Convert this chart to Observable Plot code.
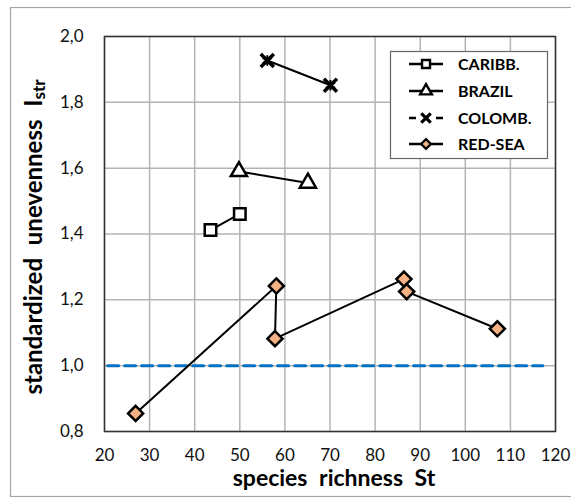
<!DOCTYPE html>
<html><head><meta charset="utf-8">
<script src="https://cdn.jsdelivr.net/npm/d3@7"></script>
<script src="https://cdn.jsdelivr.net/npm/@observablehq/plot@0.6"></script>
<style>body{margin:0;background:#fff} svg{display:block}</style>
</head><body><div id="chart"></div>
<script>
const xTicks = [20, 30, 40, 50, 60, 70, 80, 90, 100, 110, 120];
const yTicks = [0.8, 1.0, 1.2, 1.4, 1.6, 1.8, 2.0];
const seriesNames = ["CARIBB.", "BRAZIL", "COLOMB.", "RED-SEA"];
const caribbX = [43.5, 50.0];
const caribbY = [1.412, 1.461];
const brazilX = [49.8, 65.1];
const brazilY = [1.59, 1.555];
const colombX = [56.1, 70.1];
const colombY = [1.927, 1.852];
const redseaX = [26.9, 58.1, 57.8, 86.4, 87.0, 107.1];
const redseaY = [0.855, 1.242, 1.082, 1.263, 1.225, 1.112];
const refX = [20.7, 117.2];
const refY = [1.0, 1.0];

const rows = (xs, ys) => xs.map((x, i) => ({x, y: ys[i]}));
const caribb = rows(caribbX, caribbY);
const brazil = rows(brazilX, brazilY);
const colomb = rows(colombX, colombY);
const redsea = rows(redseaX, redseaY);
const ref = rows(refX, refY);
const fmt = d => d.toFixed(1).replace(".", ",");

const chart = Plot.plot({
  width: 571, height: 498,
  marginLeft: 104, marginRight: 16, marginTop: 36, marginBottom: 67,
  x: {domain: [20, 120]},
  y: {domain: [0.8, 2.0]},
  style: {fontFamily: "Lato, sans-serif", fontSize: "17px", color: "#111", background: "white"},
  marks: [
    Plot.gridX(xTicks, {stroke: "#b4b4b4", strokeOpacity: 1, strokeWidth: 1.5}),
    Plot.gridY(yTicks, {stroke: "#b4b4b4", strokeOpacity: 1, strokeWidth: 1.5}),
    Plot.axisX(xTicks, {tickSize: 0, tickPadding: 17, label: null, tickFormat: d => String(d)}),
    Plot.axisY(yTicks, {tickSize: 0, tickPadding: 21, label: null, tickFormat: fmt}),
    Plot.frame({stroke: "#333", strokeWidth: 1.5}),
    Plot.line(ref, {x: "x", y: "y", stroke: "#0070C0", strokeWidth: 3, strokeDasharray: "11,6"}),
    Plot.line(caribb, {x: "x", y: "y", stroke: "black", strokeWidth: 2}),
    Plot.dot(caribb, {x: "x", y: "y", symbol: "square", r: 6.5, fill: "white", stroke: "black", strokeWidth: 2.5}),
    Plot.line(brazil, {x: "x", y: "y", stroke: "black", strokeWidth: 2}),
    Plot.dot(brazil, {x: "x", y: "y", symbol: "triangle", r: 6, fill: "white", stroke: "black", strokeWidth: 2.5}),
    Plot.line(colomb, {x: "x", y: "y", stroke: "black", strokeWidth: 2}),
    Plot.dot(colomb, {x: "x", y: "y", symbol: "times", r: 6, stroke: "black", strokeWidth: 3.5}),
    Plot.dot(colomb, {x: "x", y: "y", symbol: "asterisk", r: 5, stroke: "black", strokeWidth: 2}),
    Plot.line(redsea, {x: "x", y: "y", stroke: "black", strokeWidth: 2}),
    Plot.dot(redsea, {x: "x", y: "y", symbol: "diamond2", r: 6.8, fill: "#F4B183", stroke: "black", strokeWidth: 2.5})
  ]
});
document.getElementById("chart").appendChild(chart);

const svg = d3.select(chart);
svg.append("rect").attr("x", 10.5).attr("y", 7.5).attr("width", 575).attr("height", 489)
  .attr("fill", "none").attr("stroke", "#a6a6a6").attr("stroke-width", 1.2);

const yl = svg.append("text")
  .attr("transform", "translate(42,237) rotate(-90)")
  .attr("text-anchor", "middle")
  .attr("font-weight", "bold").attr("font-size", 24).attr("fill", "black")
  .style("word-spacing", "7px");
yl.append("tspan").text("standardized unevenness I");
yl.append("tspan").attr("font-size", 17).attr("dy", 3).text("str");

svg.append("text").attr("x", 334).attr("y", 486).attr("text-anchor", "middle")
  .attr("font-weight", "bold").attr("font-size", 23).attr("fill", "black")
  .style("word-spacing", "6px").text("species richness St");

// legend
const lg = svg.append("g").attr("text-anchor", "start");
lg.append("rect").attr("x", 390.5).attr("y", 51.5).attr("width", 157).attr("height", 107)
  .attr("fill", "white").attr("stroke", "#666").attr("stroke-width", 1.2);
const legRowY = [64, 91, 118, 144];
const legSym = [
  {t: d3.symbolSquare, s: 64, fill: "white", sw: 2.4},
  {t: d3.symbolTriangle, s: 60, fill: "white", sw: 2.4},
  {t: d3.symbolX || d3.symbolTimes, s: 60, fill: "none", sw: 3.2},
  {t: d3.symbolDiamond2 || d3.symbolSquare2, s: 60, fill: "#F4B183", sw: 2.2}
];
seriesNames.forEach((name, i) => {
  const y = legRowY[i];
  lg.append("line").attr("x1", 409).attr("x2", 443).attr("y1", y).attr("y2", y)
    .attr("stroke", "black").attr("stroke-width", 2.4)
    .attr("stroke-dasharray", i === 2 ? "7,20" : null);
  const sym = legSym[i];
  lg.append("path").attr("d", d3.symbol(sym.t, sym.s)())
    .attr("transform", `translate(426,${y})`)
    .attr("fill", sym.fill).attr("stroke", "black").attr("stroke-width", sym.sw);
  lg.append("text").attr("x", 458).attr("y", y).attr("dy", "0.35em")
    .attr("text-anchor", "start")
    .attr("font-weight", "bold").attr("font-size", 16).attr("fill", "black").text(name);
});
</script>
</body></html>
